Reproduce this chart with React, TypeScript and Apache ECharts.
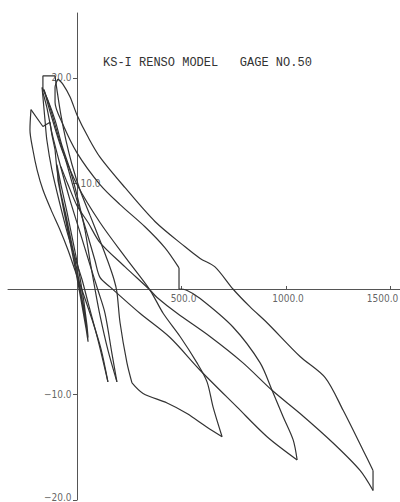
import React, { useEffect, useRef } from "react";
import * as echarts from "echarts";

// Displacement (x) vs. strain reading (y), gauge no. 50.
// Each array is one branch of the recorded hysteresis: load paths run
// from upper-left to lower-right, unload paths back again. Short pen
// jogs between branches are kept as straight segments.

const xTickValues = [500, 1000, 1500];
const yTickValues = [20, 10, -10, -20];

const initialCycles: number[][] = [
  [-81, 9.4], [-53, 7.0], [-24, 4.2], [5, 1.3], [29, -1.5], [48, -3.9], [53, -5.0],
  [43, -3.7], [19, -1.0], [-5, 1.6], [-33, 4.5], [-62, 7.3], [-91, 10.3], [-96, 11.8],
  [-77, 9.9], [-48, 7.3], [-19, 4.5], [10, 1.6], [33, -1.2], [48, -3.5], [53, -4.6],
  [38, -2.7], [14, -0.3], [-14, 2.6], [-43, 5.4], [-72, 8.4], [-96, 11.3], [-105, 13.2],
  [-120, 14.6], [-129, 15.8], [-163, 15.4], [-220, 17.0],
];

const load1: number[][] = [
  [-220, 17.0], [-225, 15.1], [-211, 13.2], [-191, 11.3], [-163, 9.4], [-124, 7.5],
  [-81, 5.6], [-43, 3.7], [-10, 1.8], [24, -0.1], [72, -2.9], [115, -5.7], [148, -8.8],
];
const unload1: number[][] = [
  [148, -8.8], [100, -4.8], [53, -1.3], [24, 0.9], [-5, 2.7], [-43, 5.1], [-81, 8.0],
  [-120, 11.3], [-144, 14.1], [-153, 16.0], [-167, 19.1],
];

const load2: number[][] = [
  [-167, 19.1], [-139, 17.9], [-105, 16.0], [-72, 13.6], [-33, 11.3], [0, 8.9], [38, 5.6],
  [62, 2.7], [86, 0], [110, -2.5], [148, -5.8], [191, -8.8],
];
const unload2: number[][] = [
  [191, -8.8], [167, -6.1], [134, -2.3], [100, -0.1], [62, 2.3], [14, 5.4], [-33, 8.4],
  [-81, 11.8], [-120, 14.8], [-144, 17.2], [-163, 18.6],
];
const jog2: number[][] = [[-163, 18.6], [-163, 20.2], [-105, 20.2]];

const load3: number[][] = [
  [-105, 20.2], [-96, 18.9], [-77, 16.5], [-53, 14.1], [-24, 11.8], [14, 9.4], [62, 7.0],
  [110, 4.6], [148, 2.6], [177, 0.9], [191, -0.3], [206, -3.2], [239, -7.0], [263, -8.9],
];
const load3Tail: number[][] = [
  [263, -8.9], [316, -9.9], [431, -10.8], [526, -11.8], [622, -13.1], [694, -14.0],
];
const unload3: number[][] = [
  [694, -14.0], [651, -11.2], [622, -8.8], [574, -7.0], [493, -4.5], [412, -2.3],
  [349, -0.1], [239, 2.8], [110, 6.3], [0, 9.9], [-72, 13.2], [-120, 16.2], [-158, 18.9],
];

const load4: number[][] = [
  [-158, 18.9], [-129, 17.2], [-91, 14.6], [-48, 11.8], [0, 8.4], [48, 5.3], [86, 2.7],
  [110, 1.1], [158, 0.2], [301, -2.3], [445, -4.6], [589, -7.7], [766, -11.2],
  [909, -14.0], [1053, -16.2],
];
const unload4: number[][] = [
  [1053, -16.2], [1034, -14.3], [986, -12.1], [933, -9.6], [876, -7.0], [746, -3.6],
  [589, -0.9], [522, -0.1], [488, 0],
];
const jog4: number[][] = [[488, 0], [488, 2.0]];
const unload4Upper: number[][] = [
  [488, 2.0], [421, 3.9], [325, 5.9], [206, 8.0], [110, 9.9], [0, 12.9], [-72, 15.8],
  [-105, 17.7], [-105, 19.1], [-91, 19.9],
];

const load5: number[][] = [
  [-91, 19.9], [-67, 19.4], [-33, 18.2], [0, 16.5], [53, 14.4], [110, 12.5], [230, 9.6],
  [373, 6.4], [517, 4.0], [589, 2.9], [660, 2.1], [746, 0], [828, -1.7], [909, -3.2],
  [1067, -6.4], [1187, -8.4], [1273, -11.5], [1369, -15.3], [1416, -17.2],
];
const load5Tip: number[][] = [[1416, -17.2], [1416, -19.1]];
const unload5: number[][] = [
  [1416, -19.1], [1354, -17.2], [1225, -14.6], [1067, -11.8], [933, -9.6], [794, -7.0],
  [636, -4.5], [479, -2.3], [383, -0.8], [349, -0.1], [230, 2.1], [110, 4.4], [53, 6.3],
  [0, 7.9], [-43, 9.9], [-77, 11.6],
];

const smoothBranches = [
  load1, unload1, load2, unload2, load3, load3Tail, unload3, load4, unload4,
  unload4Upper, load5, unload5,
];
const straightBranches = [initialCycles, jog2, jog4, load5Tip];

const INK = "#333333";
const LABEL_FONT = "'DejaVu Sans Condensed', 'DejaVu Sans', sans-serif";

const fmt = (v: number) => (v < 0 ? "\u2212" + Math.abs(v).toFixed(1) : v.toFixed(1));

export default function App() {
  const ref = useRef<HTMLDivElement>(null);

  useEffect(() => {
    if (!ref.current) return;
    const chart = echarts.init(ref.current, undefined, { renderer: "svg" });

    const curve = (data: number[][], smooth: number | boolean) => ({
      type: "line" as const,
      data,
      showSymbol: false,
      symbol: "none",
      smooth,
      silent: true,
      lineStyle: { color: INK, width: 1.2 },
    });

    const yLabelItems = yTickValues.map((v) => ({
      value: [0, v],
      label: {
        position: v === 10 ? "right" : "left",
        distance: v === 10 ? 3 : 5,
        offset: v === -20 ? [0, -3] : [0, 0],
        formatter: fmt(v),
      },
    }));

    const xLabelItems = xTickValues.map((v) => ({
      value: [v, 0],
      label: {
        position: "bottom",
        distance: 4,
        offset: v === 1500 ? [-8, 0] : [2, 0],
        formatter: fmt(v),
      },
    }));

    chart.setOption({
      animation: false,
      backgroundColor: "#ffffff",
      title: {
        text: "KS-I RENSO MODEL   GAGE NO.50",
        left: 103,
        top: 57,
        padding: 0,
        textStyle: {
          fontFamily: "'Liberation Mono', 'DejaVu Sans Mono', monospace",
          fontSize: 12,
          fontWeight: "normal",
          color: "#333",
        },
      },
      grid: { left: 8, right: 0, top: 13, bottom: 2, containLabel: false },
      xAxis: {
        type: "value",
        min: -330,
        max: 1545,
        axisLine: { onZero: true, lineStyle: { color: "#555", width: 1 } },
        axisTick: {
          show: true,
          inside: true,
          length: 3,
          customValues: xTickValues,
          lineStyle: { color: "#555" },
        },
        axisLabel: { show: false },
        splitLine: { show: false },
      },
      yAxis: {
        type: "value",
        min: -20,
        max: 26.16,
        axisLine: { onZero: true, lineStyle: { color: "#555", width: 1 } },
        axisTick: {
          show: true,
          length: 4,
          customValues: yTickValues,
          lineStyle: { color: "#555" },
        },
        axisLabel: { show: false },
        splitLine: { show: false },
      },
      series: [
        ...smoothBranches.map((d) => curve(d, 0.3)),
        ...straightBranches.map((d) => curve(d, false)),
        {
          type: "scatter",
          silent: true,
          symbolSize: 1,
          itemStyle: { color: "rgba(0,0,0,0)" },
          label: {
            show: true,
            fontFamily: LABEL_FONT,
            fontSize: 10,
            color: "#3a3a3a",
          },
          data: [...yLabelItems, ...xLabelItems],
          z: 5,
        },
      ],
    });

    return () => chart.dispose();
  }, []);

  return (
    <div
      ref={ref}
      style={{ position: "fixed", left: 0, top: 0, width: 400, height: 502, background: "#fff" }}
    />
  );
}
